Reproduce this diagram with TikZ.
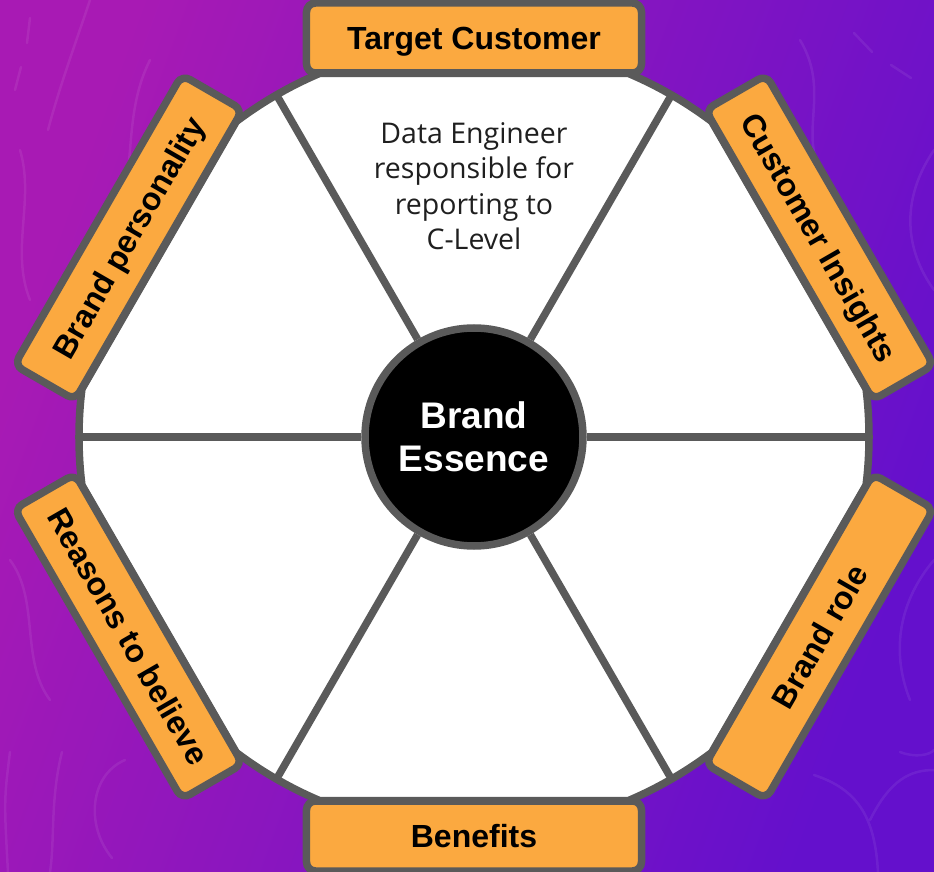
\documentclass[tikz,border=0pt]{standalone}
\usepackage{fontspec}
\setmainfont{Liberation Sans}
\newfontfamily\bodyfont{Open Sans}
\definecolor{rim}{HTML}{5A5A5A}
\definecolor{tag}{HTML}{FBA940}
\definecolor{bgA}{HTML}{A81AB4}
\definecolor{bgB}{HTML}{6410CC}
\begin{document}
\begin{tikzpicture}[x=1pt,y=1pt,
  rimline/.style={draw=rim, line width=7.5pt},
  tagbox/.style={rimline, fill=tag, rounded corners=9pt, minimum width=335pt,
    minimum height=70pt, inner sep=0pt, font=\fontsize{32}{32}\selectfont\bfseries,
    text height=23pt, text depth=0pt},
  contour/.style={draw=white, opacity=0.07, line width=2.5pt, line cap=round}]

% page and background
\useasboundingbox (-474,-435) rectangle (460,437);
\shade[top color=bgA, bottom color=bgB, shading angle=70] (-474,-435) rectangle (460,437);

% faint contour lines of the backdrop (pixel-style coordinates)
\begin{scope}[shift={(-474,437)}, yscale=-1]
  \draw[contour] (90,0) .. controls (75,45) and (60,85) .. (48,130);
  \draw[contour] (30,18) -- (27,43);
  \draw[contour] (21,67) -- (15,90);
  \draw[contour] (150,60) .. controls (120,120) and (140,180) .. (110,240);
  \draw[contour] (20,150) .. controls (35,200) and (10,250) .. (30,300);
  \draw[contour] (854,33) -- (872,52);
  \draw[contour] (891,65) -- (911,78);
  \draw[contour] (800,40) .. controls (830,90) and (800,130) .. (820,170);
  \draw[contour] (934,150) .. controls (900,200) and (905,250) .. (934,290);
  \draw[contour] (10,560) .. controls (40,600) and (20,660) .. (50,700);
  \draw[contour] (10,752) .. controls (4,800) .. (8,872);
  \draw[contour] (62,752) .. controls (50,800) and (55,840) .. (50,872);
  \draw[contour] (125,760) .. controls (90,775) and (85,825) .. (112,858);
  \draw[contour] (814,775) .. controls (860,790) and (875,820) .. (878,872);
  \draw[contour] (900,752) .. controls (915,758) and (930,755) .. (934,750);
  \draw[contour] (934,560) .. controls (900,600) and (890,650) .. (910,700);
  \draw[contour] (870,820) .. controls (890,780) and (910,770) .. (934,770);
\end{scope}

% wheel: a disc trimmed flat under each label
\def\R{395}\def\A{23}
\path[rimline, fill=white, line join=round] (-90-\A:\R)
  \foreach \t in {-90,-30,30,90,150,210} {
    -- (\t+\A:\R) arc[start angle=\t+\A, end angle=\t+60-\A, radius=\R] } -- cycle;

% hub
\node[circle, rimline, fill=black, minimum size=218pt, inner sep=0pt, text=white,
  align=center, font=\fontsize{37}{43.5}\selectfont\bfseries] (core) at (0,0)
  {Brand\\Essence};

% spokes from the hub to the rim
\foreach \a in {0,60,...,300} {
  \coordinate (rim\a) at (\a:\R);
  \draw[rimline] (core) -- (rim\a);
}

% labels round the wheel
\foreach \ang/\rot/\txt/\nm in {90/0/Target Customer/tagA, 30/-60/Customer Insights/tagB,
    -30/60/Brand role/tagC, -90/0/Benefits/tagD, 210/-60/Reasons to believe/tagE,
    150/60/Brand personality/tagF}
  \node[tagbox, rotate=\rot] (\nm) at (\ang:399) {\txt};

% note in the upper segment
\node[font=\bodyfont\fontsize{28.5}{35.5}\selectfont, align=center, inner sep=0pt,
  text=black!88] (brief) at (0,251) {Data Engineer\\responsible for\\reporting to\\C-Level};
\end{tikzpicture}
\end{document}
